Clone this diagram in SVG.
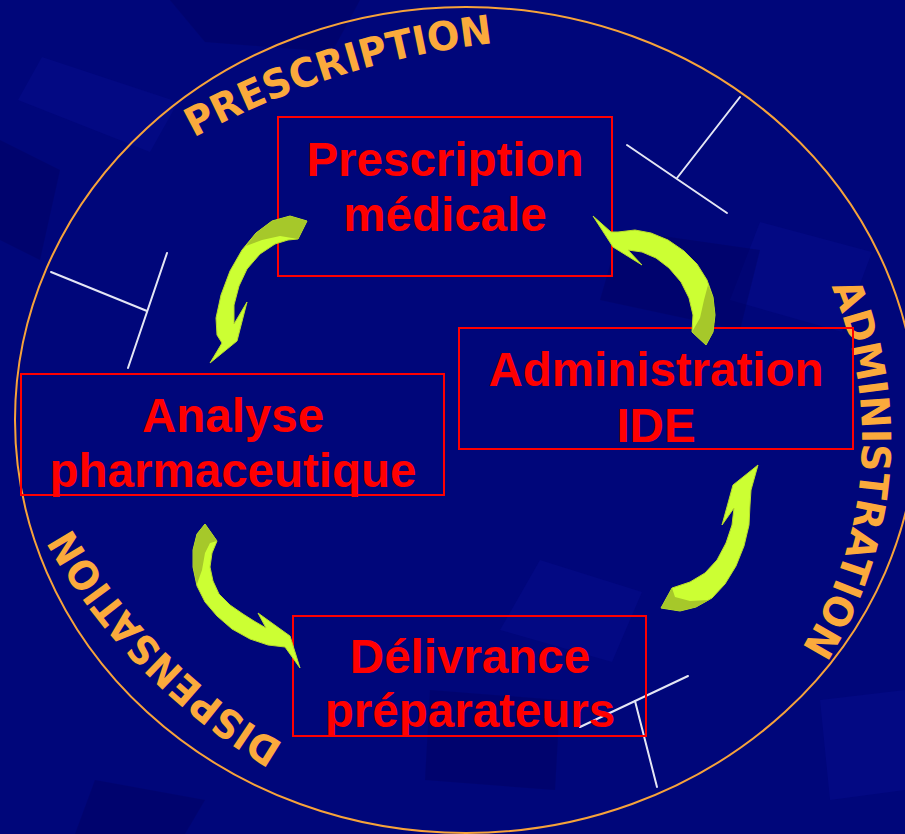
<svg xmlns="http://www.w3.org/2000/svg" width="905" height="834" viewBox="0 0 905 834">
<defs>
<style>
.bg{fill:#00067a}
.sh1{fill:#0a119a;opacity:.28}
.sh2{fill:#000058;opacity:.35}
.box{fill:none;stroke:#ff0000;stroke-width:2}
.lbl{font-family:"Liberation Sans",Arial,sans-serif;font-weight:bold;font-size:47.5px;fill:#ff0000;text-anchor:middle}
.arc{font-family:"DejaVu Sans",Verdana,sans-serif;font-weight:bold;font-size:40px;fill:#fbaa3c}
.ring{fill:none;stroke:#f7a33a;stroke-width:2}
.cut{stroke:#e4e6f4;stroke-width:2;fill:none;stroke-linecap:round}
.arw{fill:#ccff33;stroke:#b8dc2c;stroke-width:1;stroke-linejoin:round}
.arwd{fill:#a6c82a}
</style>
<path id="pPres" d="M 189.4 140.3 A 816 816 0 0 1 513.9 41.1"/>
<path id="pAdm" d="M 809.5 243 A 392 392 0 0 1 770.3 691"/>
<path id="pDisp" d="M 378.3 788 A 581 581 0 0 1 31 440.7"/>
</defs>
<rect class="bg" x="0" y="0" width="905" height="834"/>
<g id="background">
<polygon class="sh1" points="42,57 178,102 150,152 18,100"/>
<polygon class="sh2" points="170,0 360,0 332,52 205,42"/>
<polygon class="sh1" points="760,222 872,252 842,332 730,300"/>
<polygon class="sh1" points="540,560 642,592 612,662 500,630"/>
<polygon class="sh2" points="95,780 205,800 185,834 75,834"/>
<polygon class="sh2" points="430,690 560,700 555,790 425,780"/>
<polygon class="sh1" points="820,700 905,690 905,790 830,800"/>
<polygon class="sh2" points="0,140 60,170 40,260 0,240"/>
<polygon class="sh2" points="620,230 760,250 740,330 600,300"/>
</g>
<ellipse class="ring" cx="466" cy="420" rx="451" ry="413"/>
<g id="phase-labels">
<text class="arc"><textPath href="#pPres" startOffset="5" textLength="316" lengthAdjust="spacingAndGlyphs">PRESCRIPTION</textPath></text>
<text class="arc"><textPath href="#pAdm" startOffset="48.6" textLength="377" lengthAdjust="spacingAndGlyphs">ADMINISTRATION</textPath></text>
<text class="arc"><textPath href="#pDisp" startOffset="104.4" textLength="307" lengthAdjust="spacingAndGlyphs">DISPENSATION</textPath></text>
</g>
<g id="marks">
<line class="cut" x1="627" y1="145" x2="727" y2="213"/>
<line class="cut" x1="677" y1="178" x2="740" y2="97"/>
<line class="cut" x1="51" y1="272" x2="147" y2="311"/>
<line class="cut" x1="167" y1="253" x2="128" y2="368"/>
<line class="cut" x1="580" y1="727" x2="688" y2="676"/>
<line class="cut" x1="635" y1="701" x2="657" y2="787"/>
</g>
<g id="node-prescription">
<rect class="box" x="278" y="117" width="334" height="159"/>
<text class="lbl" x="445" y="176">Prescription</text>
<text class="lbl" x="445" y="231">médicale</text>
</g>
<g id="node-administration">
<rect class="box" x="459" y="328" width="394" height="121"/>
<text class="lbl" x="656" y="386">Administration</text>
<text class="lbl" x="656" y="442">IDE</text>
</g>
<g id="node-analyse">
<rect class="box" x="21" y="374" width="423" height="121"/>
<text class="lbl" x="233" y="432">Analyse</text>
<text class="lbl" x="233" y="487">pharmaceutique</text>
</g>
<g id="node-delivrance">
<rect class="box" x="293" y="616" width="353" height="120"/>
<text class="lbl" x="470" y="673">Délivrance</text>
<text class="lbl" x="470" y="727">préparateurs</text>
</g>
<g id="connectors">
<path class="arw" d="M307,221 L290,216 L272,221 L256,233 L242,250 L230,271 L221,295 L216,318 L217,335 L222,343 L210,363 L237,341 L247,302 L234,324 L234,305 L239,286 L247,269 L260,254 L275,244 L288,240 L298,239 Z"/>
<path class="arwd" d="M307,221 L290,216 L272,221 L256,233 L246,246 L262,240 L280,236 L298,239 Z"/>
<path class="arw" d="M205,524 L197,534 L193,550 L193,567 L197,586 L205,602 L217,616 L232,629 L250,639 L268,645 L285,647 L300,668 L290,636 L258,613 L266,628 L254,621 L243,614 L230,605 L219,594 L213,581 L210,567 L212,553 L217,541 Z"/>
<path class="arwd" d="M205,524 L197,534 L193,550 L193,567 L197,584 L202,570 L205,553 L210,543 L217,541 Z"/>
<path class="arw" d="M661,608 L680,611 L696,607 L712,598 L725,584 L736,566 L744,546 L749,525 L750,505 L751,490 L758,465 L733,485 L722,525 L734,508 L732,525 L726,543 L717,560 L705,573 L690,582 L672,588 Z"/>
<path class="arwd" d="M661,608 L680,611 L696,607 L709,600 L690,601 L675,597 L672,588 Z"/>
<path class="arw" d="M706,345 L713,332 L715,315 L713,297 L707,280 L697,264 L684,251 L668,240 L651,233 L635,230 L618,232 L611,232 L593,216 L613,247 L642,265 L628,250 L642,252 L656,258 L669,268 L681,282 L689,298 L693,315 L692,332 Z"/>
<path class="arwd" d="M706,345 L713,332 L715,315 L713,297 L708,285 L704,300 L700,318 L692,332 Z"/>
</g>
</svg>
